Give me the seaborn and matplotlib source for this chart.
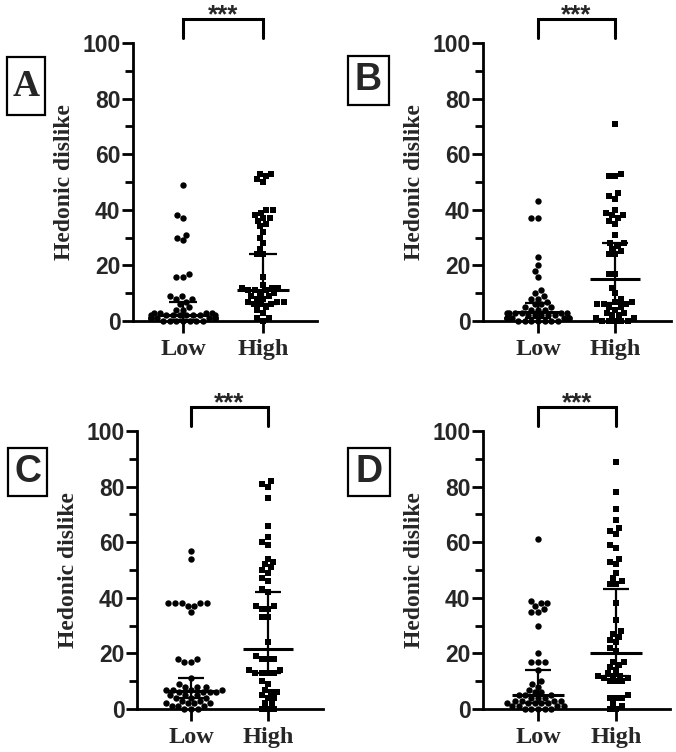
import numpy as np
import pandas as pd
import seaborn as sns
import matplotlib.pyplot as plt
from matplotlib.patches import Rectangle
from matplotlib.ticker import MultipleLocator

sns.set_theme(style="ticks")
plt.rcParams["font.family"] = ["Liberation Sans", "DejaVu Sans"]

# ----------------------------
# Data
# ----------------------------
groups = ["Low", "High"]

a_low = [49, 38, 37, 31, 30, 29, 17, 16, 16, 9, 9, 8, 8, 7, 6, 5, 4, 4, 3, 3, 3, 3,
         2, 2, 2, 2, 2, 2, 2, 2, 1, 1, 1, 1, 1, 1, 1, 1, 0, 0, 0, 0, 0, 0, 0]
a_high = [53, 53, 52, 51, 50, 40, 40, 39, 38, 37, 37, 36, 35, 34, 32, 30, 28, 26, 24, 24,
          16, 13, 12, 12, 12, 11, 11, 11, 10, 10, 9, 9, 8, 8, 7, 7, 7, 6, 6, 6, 5, 4, 3,
          1, 1, 0]

b_low = [43, 37, 37, 23, 20, 18, 16, 11, 10, 9, 8, 8, 7, 6, 6, 5, 5, 4, 4, 4, 3, 3, 3,
         3, 3, 3, 2, 2, 2, 2, 2, 1, 1, 1, 1, 1, 1, 1, 0, 0, 0, 0, 0, 0, 0]
b_high = [71, 53, 52, 52, 46, 45, 44, 40, 39, 38, 38, 37, 36, 35, 31, 28, 28, 27, 26, 25,
          24, 24, 17, 17, 12, 10, 8, 7, 7, 6, 6, 6, 5, 5, 4, 3, 3, 2, 2, 1, 1, 0, 0, 0,
          0, 0]

c_low = [57, 54, 38, 38, 38, 38, 38, 37, 37, 35, 18, 18, 17, 17, 11, 9, 8, 8, 8, 7, 7, 7,
         7, 6, 6, 6, 6, 5, 5, 5, 4, 4, 4, 3, 3, 2, 2, 2, 2, 1, 1, 1, 0, 0, 0]
c_high = [82, 81, 80, 76, 66, 62, 60, 59, 54, 53, 52, 51, 50, 49, 47, 46, 43, 42, 37, 37,
          36, 36, 33, 33, 24, 19, 18, 18, 18, 14, 14, 13, 13, 13, 13, 10, 9, 7, 6, 6, 5,
          4, 4, 2, 2, 0, 0, 0]

d_low = [61, 39, 38, 38, 37, 36, 35, 35, 30, 20, 17, 17, 17, 14, 10, 9, 8, 7, 6, 6, 5, 5,
         5, 4, 4, 4, 3, 3, 3, 3, 2, 2, 2, 2, 2, 1, 1, 1, 1, 0, 0, 0, 0, 0]
d_high = [89, 78, 72, 68, 65, 64, 63, 59, 58, 54, 53, 52, 49, 47, 46, 45, 45, 38, 32, 28,
          27, 26, 25, 24, 22, 21, 17, 17, 16, 15, 14, 13, 12, 12, 12, 11, 11, 10, 10, 10,
          5, 4, 4, 4, 2, 1, 0, 0]

# median and interquartile range per group [Low, High]
a_q1, a_median, a_q3 = [0.5, 6], [2, 11], [7, 24]
b_q1, b_median, b_q3 = [1, 6.4], [3.3, 15], [6.6, 28.2]
c_q1, c_median, c_q3 = [4, 13], [6.6, 21.5], [11, 42]
d_q1, d_median, d_q3 = [2, 12], [5.2, 20], [14, 43]

panel_letters = ["A", "B", "C", "D"]
stars = "***"
y_label = "Hedonic dislike"

panels = [
    (a_low, a_high, a_q1, a_median, a_q3),
    (b_low, b_high, b_q1, b_median, b_q3),
    (c_low, c_high, c_q1, c_median, c_q3),
    (d_low, d_high, d_q1, d_median, d_q3),
]

# ----------------------------
# Layout in pixels
# ----------------------------
W, H = 676, 752
# axis_x, right, top, bottom, low_x, high_x
axes_px = [
    (133, 317, 43, 321, 183, 263),
    (483, 671, 43, 321, 538, 615),
    (137, 323, 431, 709, 191, 268),
    (483, 670, 431, 709, 538, 616),
]
# left, top, right, bottom
boxes_px = [
    (7, 57, 45, 115),
    (348, 56, 389, 105),
    (8, 448, 47, 496),
    (348, 448, 390, 496),
]
letter_fonts = ["Liberation Serif", "Liberation Sans", "Liberation Sans", "Liberation Sans"]

fig = plt.figure(figsize=(W / 100, H / 100), dpi=100)
fig.patch.set_facecolor("white")

for (low, high, q1, med, q3), (ax0, right, top, bottom, lx, hx), box, letter, lfont in zip(
        panels, axes_px, boxes_px, panel_letters, letter_fonts):
    ax = fig.add_axes([ax0 / W, 1 - bottom / H, (right - ax0) / W, (bottom - top) / H])

    sns.swarmplot(x=["Low"] * len(low), y=low, order=groups, marker="o", size=4.6,
                  color="black", linewidth=0, ax=ax, warn_thresh=1)
    sns.swarmplot(x=["High"] * len(high), y=high, order=groups, marker="s", size=4.4,
                  color="black", linewidth=0, ax=ax, warn_thresh=1)
    for c in ax.collections:
        c.set_clip_on(False)

    # median with interquartile range
    for i in range(2):
        ax.hlines(med[i], i - 0.33, i + 0.33, color="black", lw=2.2, zorder=4, clip_on=False)
        ax.hlines([q1[i], q3[i]], i - 0.17, i + 0.17, color="black", lw=1.6, zorder=4, clip_on=False)
        ax.vlines(i, q1[i], q3[i], color="black", lw=1.6, zorder=4, clip_on=False)

    ppu = hx - lx
    ax.set_xlim(-(lx - ax0) / ppu, 1 + (right - hx) / ppu)
    ax.set_ylim(0, 100)
    ax.yaxis.set_major_locator(MultipleLocator(20))
    ax.yaxis.set_minor_locator(MultipleLocator(10))

    sns.despine(ax=ax)
    for s in ["left", "bottom"]:
        ax.spines[s].set_linewidth(2)
        ax.spines[s].set_color("black")
    ax.tick_params(axis="y", which="major", length=8, width=2, color="black", pad=1)
    ax.tick_params(axis="y", which="minor", length=5.5, width=2, color="black")
    ax.tick_params(axis="x", length=8.5, width=2, color="black", pad=4.5)
    for t in ax.get_yticklabels():
        t.set_fontfamily("Liberation Sans")
        t.set_fontweight("bold")
        t.set_fontsize(16.5)
    ax.set_xticks([0, 1])
    ax.set_xticklabels(groups, fontfamily="Liberation Serif", fontweight="bold", fontsize=17.5)
    ax.set_xlabel("")
    ax.set_ylabel(y_label, fontfamily="Liberation Serif", fontweight="bold", fontsize=17,
                  labelpad=5)

    # significance bracket
    ax.plot([0, 0, 1, 1], [101.8, 108.8, 108.8, 101.8], color="black", lw=2.2,
            clip_on=False, solid_joinstyle="miter")
    ax.text(0.5, 107.6, stars, ha="center", va="baseline", fontsize=18.5, fontweight="bold",
            fontfamily="Liberation Sans", clip_on=False)

    # panel letter box
    bl, bt, br, bb = box
    fig.patches.append(Rectangle((bl / W, 1 - bb / H), (br - bl) / W, (bb - bt) / H,
                                 transform=fig.transFigure, fill=False, lw=1.6,
                                 edgecolor="black"))
    fig.text((bl + br) / 2 / W, 1 - (bt + bb) / 2 / H, letter, ha="center", va="center",
             fontsize=27, fontweight="bold", fontfamily=lfont)

fig.savefig("out.png", dpi=100, facecolor="white")
